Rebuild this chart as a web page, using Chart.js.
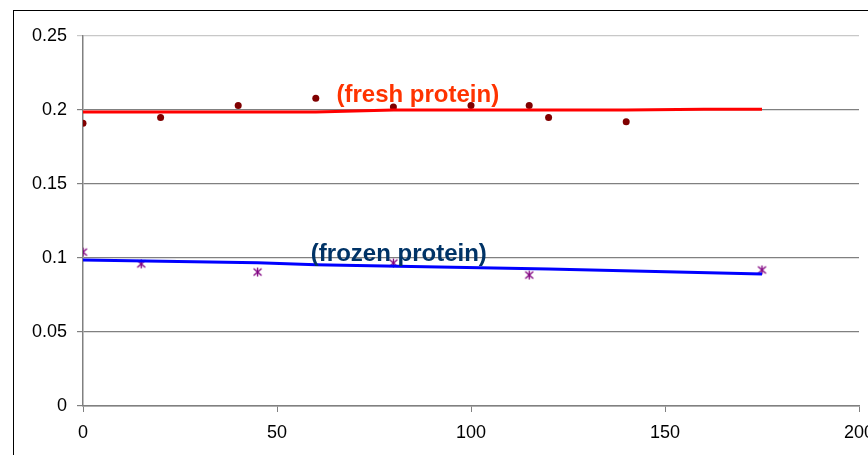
<!DOCTYPE html>
<html>
<head>
<meta charset="utf-8">
<script src="https://cdn.jsdelivr.net/npm/chart.js@4.4.1/dist/chart.umd.min.js"></script>
<style>
  html, body { margin: 0; padding: 0; background: #fff; }
  #wrap { position: relative; width: 868px; height: 455px; overflow: hidden; }
  #frame { position: absolute; left: 13px; top: 10px; width: 900px; height: 500px; border-left: 1px solid #000; border-top: 1px solid #000; }
  canvas { position: absolute; left: 0; top: 0; }
</style>
</head>
<body>
<div id="wrap">
  <div id="frame"></div>
  <canvas id="c" width="868" height="455"></canvas>
</div>
<script>
// measured points
const freshX = [0, 20, 40, 60, 80, 100, 115, 120, 140]
const freshY = [0.191, 0.195, 0.203, 0.208, 0.202, 0.203, 0.203, 0.195, 0.192]
const frozenX = [0, 15, 45, 80, 115, 175]
const frozenY = [0.104, 0.096, 0.0905, 0.0966, 0.0885, 0.0919]

// fitted lines
const freshLineX = [0, 60, 80, 140, 160, 175]
const freshLineY = [0.1987, 0.1987, 0.2000, 0.2000, 0.2005, 0.2005]
const frozenLineX = [0, 45, 60, 120, 175]
const frozenLineY = [0.0986, 0.0968, 0.0955, 0.0926, 0.0892]

const labelText = ['(fresh protein)', '(frozen protein)']
const labelX = [86.3, 81.4]
const labelY = [0.2101, 0.1022]
const labelColor = ['#FF3300', '#003366']

const xTicks = [0, 50, 100, 150, 200]
const yTicks = [0, 0.05, 0.1, 0.15, 0.2, 0.25]

const pts = (xs, ys) => xs.map((x, i) => ({ x: x, y: ys[i] }))

// asterisk marker: x cross plus vertical bar
const star = document.createElement('canvas')
star.width = 11
star.height = 11
const sc = star.getContext('2d')
sc.strokeStyle = '#800080'
sc.lineWidth = 1.3
sc.beginPath()
sc.moveTo(1.5, 2); sc.lineTo(9.5, 9)
sc.moveTo(9.5, 2); sc.lineTo(1.5, 9)
sc.moveTo(5.5, 1); sc.lineTo(5.5, 10)
sc.stroke()

const textPlugin = {
    id: 'seriesText',
    afterDatasetsDraw(chart) {
        const ctx = chart.ctx
        const sx = chart.scales.x, sy = chart.scales.y
        ctx.save()
        ctx.font = 'bold 24px "Liberation Sans", Arial, sans-serif'
        ctx.textAlign = 'center'
        ctx.textBaseline = 'middle'
        labelText.forEach((t, i) => {
            ctx.fillStyle = labelColor[i]
            ctx.fillText(t, sx.getPixelForValue(labelX[i]), sy.getPixelForValue(labelY[i]))
        })
        ctx.restore()
    }
}

const tickFont = { family: '"Liberation Sans", Arial, sans-serif', size: 18 }

new Chart(document.getElementById('c').getContext('2d'), {
    type: 'scatter',
    data: {
        datasets: [
            {
                data: pts(freshLineX, freshLineY),
                showLine: true,
                borderColor: '#FF0000',
                borderWidth: 3,
                pointRadius: 0
            },
            {
                data: pts(frozenLineX, frozenLineY),
                showLine: true,
                borderColor: '#0000FF',
                borderWidth: 3,
                pointRadius: 0
            },
            {
                data: pts(freshX, freshY),
                pointStyle: 'circle',
                pointRadius: 3.5,
                backgroundColor: '#800000',
                borderColor: '#800000',
                borderWidth: 0
            },
            {
                data: pts(frozenX, frozenY),
                pointStyle: star,
                pointRadius: 5
            }
        ]
    },
    options: {
        responsive: false,
        animation: false,
        layout: { padding: { top: 36, right: 9, left: 0, bottom: 0 } },
        scales: {
            x: {
                type: 'linear',
                min: 0,
                max: 200,
                afterBuildTicks: s => { s.ticks = xTicks.map(v => ({ value: v })) },
                afterFit: s => { s.height = 49; s.paddingLeft = 0; s.paddingRight = 0 },
                ticks: { color: '#000', font: tickFont, padding: 10 },
                grid: { drawOnChartArea: false, drawTicks: true, tickLength: 6, color: '#808080' },
                border: { color: '#808080', width: 1.5 }
            },
            y: {
                min: 0,
                max: 0.25,
                afterBuildTicks: s => { s.ticks = yTicks.map(v => ({ value: v })) },
                afterFit: s => { s.width = 83; s.paddingTop = 0; s.paddingBottom = 0 },
                ticks: { color: '#000', font: tickFont, padding: 10, callback: v => String(v) },
                grid: {
                    tickLength: 6,
                    color: c => c.tick && c.tick.value === 0.25 ? '#c8c8c8' : '#808080',
                    lineWidth: 1.2
                },
                border: { color: '#808080', width: 1.5 }
            }
        },
        plugins: {
            legend: { display: false },
            tooltip: { enabled: false }
        }
    },
    plugins: [textPlugin]
})
</script>
</body>
</html>
